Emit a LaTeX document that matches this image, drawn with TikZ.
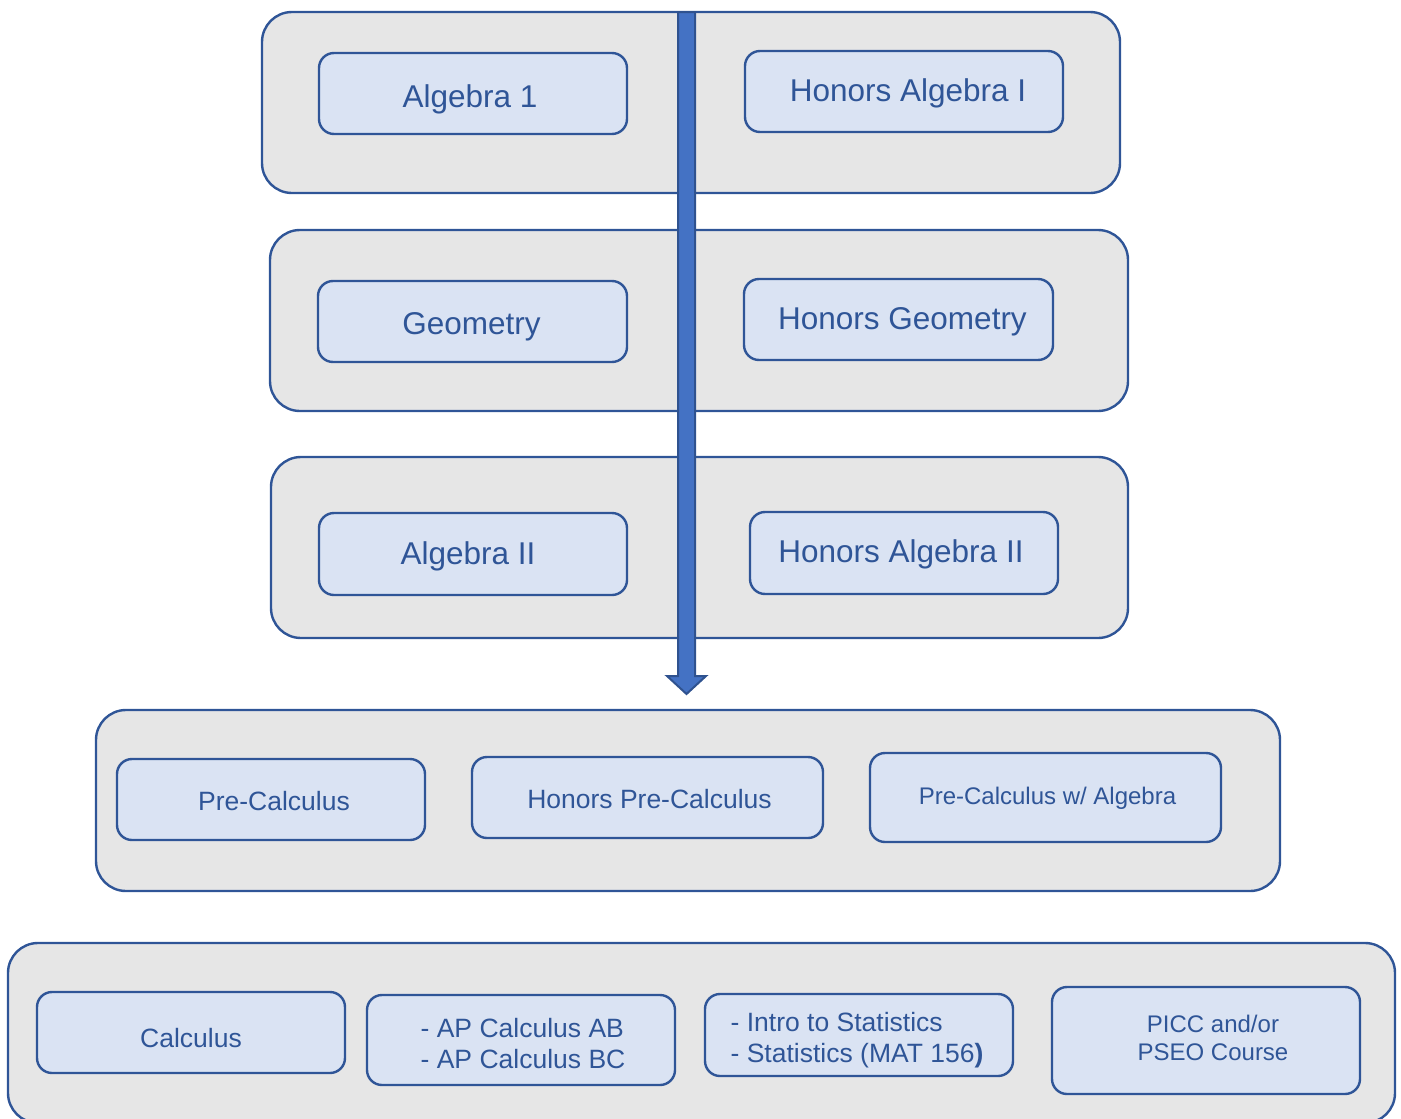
\documentclass[tikz,border=0pt]{standalone}
\usepackage{fontspec}
\setmainfont{Liberation Sans}
\definecolor{boxline}{HTML}{2F5597}
\definecolor{outerfill}{HTML}{E6E6E6}
\definecolor{innerfill}{HTML}{DAE3F3}
\definecolor{arrowfill}{HTML}{4472C4}
\definecolor{arrowline}{HTML}{2F528F}
\tikzset{
  container/.style={draw=boxline, fill=outerfill, line width=2.4pt, rounded corners=30pt, inner sep=0pt},
  course/.style={draw=boxline, fill=innerfill, line width=2.4pt, rounded corners=15pt, inner sep=0pt},
  lbl/.style={inner sep=0pt, text=boxline, align=center},
  big/.style={font=\fontsize{31.5}{36}\selectfont},
  mid/.style={font=\fontsize{26.5}{31}\selectfont},
  small/.style={font=\fontsize{24}{28}\selectfont},
  bigarrow/.style={draw=arrowline, fill=arrowfill, line width=2pt, line join=miter},
}
\begin{document}
\begin{tikzpicture}[x=1pt,y=-1pt]
\useasboundingbox (0,0) rectangle (1401,1119);
% containers
\node[container, minimum width=858pt, minimum height=181pt] (c1) at (691,102.5) {};
\node[container, minimum width=858pt, minimum height=181pt] (c2) at (699,320.5) {};
\node[container, minimum width=857pt, minimum height=181pt] (c3) at (699.5,547.5) {};
\node[container, minimum width=1184pt, minimum height=181pt] (c4) at (688,800.5) {};
\node[container, minimum width=1387pt, minimum height=180pt] (c5) at (701.5,1033) {};
% arrow
\coordinate (atop) at (686.5,12);
\coordinate (atip) at (686.5,694);
\draw[bigarrow] ([xshift=-8.5pt]atop) -- ([xshift=-8.5pt,yshift=18pt]atip) -- ([xshift=-19.5pt,yshift=18pt]atip) -- (atip)
  -- ([xshift=19.5pt,yshift=18pt]atip) -- ([xshift=8.5pt,yshift=18pt]atip) -- ([xshift=8.5pt]atop) -- cycle;
% course boxes
\node[course, minimum width=308pt, minimum height=81pt] (alg1) at (473,93.5) {};
\node[course, minimum width=318pt, minimum height=81pt] (halg1) at (904,91.5) {};
\node[course, minimum width=309pt, minimum height=81pt] (geo) at (472.5,321.5) {};
\node[course, minimum width=309pt, minimum height=81pt] (hgeo) at (898.5,319.5) {};
\node[course, minimum width=308pt, minimum height=82pt] (alg2) at (473,554) {};
\node[course, minimum width=308pt, minimum height=82pt] (halg2) at (904,553) {};
\node[course, minimum width=308pt, minimum height=81pt] (pc) at (271,799.5) {};
\node[course, minimum width=351pt, minimum height=81pt] (hpc) at (647.5,797.5) {};
\node[course, minimum width=351pt, minimum height=89pt] (pcwa) at (1045.5,797.5) {};
\node[course, minimum width=308pt, minimum height=81pt] (calc) at (191,1032.5) {};
\node[course, minimum width=308pt, minimum height=90pt] (ap) at (521,1040) {};
\node[course, minimum width=308pt, minimum height=82pt] (stat) at (859,1035) {};
\node[course, minimum width=308pt, minimum height=107pt] (picc) at (1206,1040.5) {};
% course texts
\node[lbl, big] (alg1t) at ([shift={(-3,6)}]alg1.center) {Algebra 1};
\node[lbl, big] (halg1t) at ([shift={(4,2)}]halg1.center) {Honors Algebra I};
\node[lbl, big] (geot) at ([shift={(-1,5)}]geo.center) {Geometry};
\node[lbl, big] (hgeot) at ([shift={(4,2)}]hgeo.center) {Honors Geometry};
\node[lbl, big] (alg2t) at ([shift={(-5,2)}]alg2.center) {Algebra II};
\node[lbl, big] (halg2t) at ([shift={(-3,1)}]halg2.center) {Honors Algebra II};
\node[lbl, mid] (pct) at ([shift={(3,2)}]pc.center) {Pre-Calculus};
\node[lbl, mid] (hpct) at ([shift={(2,2)}]hpc.center) {Honors Pre-Calculus};
\node[lbl, small] (pcwat) at ([shift={(2,1)}]pcwa.center) {Pre-Calculus w/ Algebra};
\node[lbl, mid] (calct) at ([shift={(0,6)}]calc.center) {Calculus};
\node[lbl, mid] (apt) at ([shift={(2,7)}]ap.center) {\begin{tabular}{@{}l@{}}- AP Calculus AB\\- AP Calculus BC\end{tabular}};
\node[lbl, mid] (statt) at ([shift={(-2,6)}]stat.center) {\begin{tabular}{@{}l@{}}- Intro to Statistics\\- Statistics (MAT 156\textbf{)}\end{tabular}};
\node[lbl, small] (picct) at ([shift={(7,-3)}]picc.center) {PICC and/or\\PSEO Course};
\end{tikzpicture}
\end{document}
